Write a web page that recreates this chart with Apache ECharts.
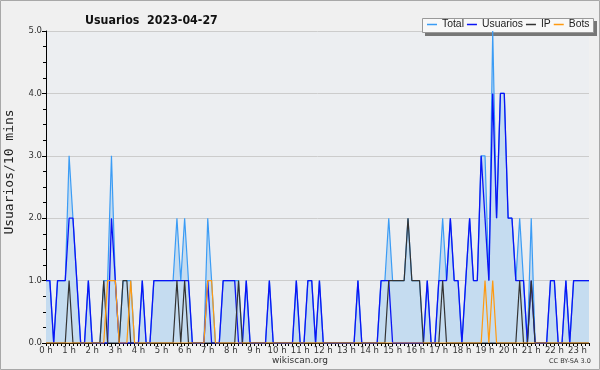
<!DOCTYPE html>
<html>
<head>
<meta charset="utf-8">
<script src="https://cdn.jsdelivr.net/npm/echarts@6/dist/echarts.min.js"></script>
<style>
html,body{margin:0;padding:0;background:#f0f0f0;}
#c{width:600px;height:370px;}
</style>
</head>
<body>
<div id="c"></div>
<script>
// 10-minute slots, 0:00 .. 23:30
var slots = [];
for (var k = 0; k < 142; k++) slots.push(k);
var hourLabels = ["0 h","1 h","2 h","3 h","4 h","5 h","6 h","7 h","8 h","9 h","10 h","11 h","12 h","13 h","14 h","15 h","16 h","17 h","18 h","19 h","20 h","21 h","22 h","23 h"];
var yTicks = ["0.0","1.0","2.0","3.0","4.0","5.0"];

var total = [
 1,1,0,1,1,1,3,2,1,0,
 0,1,0,0,0,1,1,3,1,0,
 1,1,1,0,0,1,0,0,1,1,
 1,1,1,1,2,1,2,1,0,0,
 0,0,2,1,0,0,1,1,1,1,
 1,0,1,0,0,0,0,0,1,0,
 0,0,0,0,0,1,0,0,1,1,
 0,1,0,0,0,0,0,0,0,0,
 0,1,0,0,0,0,0,1,1,2,
 1,1,1,1,2,1,1,1,0,1,
 0,0,1,2,1,2,1,1,0,1,
 2,1,1,3,3,1,5,2,4,4,
 2,2,1,2,1,0,2,0,0,0,
 0,1,1,0,0,1,0,1,1,1,
 1,1];
var usuarios = [
 1,1,0,1,1,1,2,2,1,0,
 0,1,0,0,0,0,0,2,1,0,
 0,0,0,0,0,1,0,0,1,1,
 1,1,1,1,1,1,1,1,0,0,
 0,0,1,0,0,0,1,1,1,1,
 0,0,1,0,0,0,0,0,1,0,
 0,0,0,0,0,1,0,0,1,1,
 0,1,0,0,0,0,0,0,0,0,
 0,1,0,0,0,0,0,1,1,1,
 0,0,0,0,0,0,0,0,0,1,
 0,0,1,1,1,2,1,1,0,1,
 2,1,1,3,2,1,4,2,4,4,
 2,2,1,1,1,0,1,0,0,0,
 0,1,1,0,0,1,0,1,1,1,
 1,1];
var ip = [
 0,0,0,0,0,0,1,0,0,0,
 0,0,0,0,0,1,0,0,0,0,
 1,1,0,0,0,0,0,0,0,0,
 0,0,0,0,1,0,1,0,0,0,
 0,0,0,0,0,0,0,0,0,0,
 1,0,0,0,0,0,0,0,0,0,
 0,0,0,0,0,0,0,0,0,0,
 0,0,0,0,0,0,0,0,0,0,
 0,0,0,0,0,0,0,0,0,1,
 1,1,1,1,2,1,1,1,0,0,
 0,0,0,1,0,0,0,0,0,0,
 0,0,0,0,0,0,0,0,0,0,
 0,0,0,1,0,0,1,0,0,0,
 0,0,0,0,0,0,0,0,0,0,
 0,0];
var bots = [
 0,0,0,0,0,0,0,0,0,0,
 0,0,0,0,0,0,1,1,1,0,
 0,0,1,0,0,0,0,0,0,0,
 0,0,0,0,0,0,0,0,0,0,
 0,0,1,1,0,0,0,0,0,0,
 0,0,0,0,0,0,0,0,0,0,
 0,0,0,0,0,0,0,0,0,0,
 0,0,0,0,0,0,0,0,0,0,
 0,0,0,0,0,0,0,0,0,0,
 0,0,0,0,0,0,0,0,0,0,
 0,0,0,0,0,0,0,0,0,0,
 0,0,0,0,1,0,1,0,0,0,
 0,0,0,0,0,0,0,0,0,0,
 0,0,0,0,0,0,0,0,0,0,
 0,0];

var chart = echarts.init(document.getElementById('c'), null, {renderer:'canvas'});
var FONT = 'DejaVu Sans';
var COND = '"DejaVu Sans Condensed", "Liberation Sans Narrow", "Liberation Sans", sans-serif';
var option = {
  animation: false,
  backgroundColor: '#f0f0f0',
  title: {
    text: 'Usuarios  2023-04-27',
    left: 80, top: 10,
    textStyle: {fontFamily: COND, fontWeight: 'bold', fontSize: 12.3, color: '#111'}
  },
  legend: {
    data: ['Total','Usuarios','IP','Bots'],
    left: 425, top: 17.5, width: 175,
    icon: 'rect',
    itemWidth: 10, itemHeight: 1.5, itemGap: 3,
    padding: [2, 2, 2, 2],
    textStyle: {fontFamily: '"Liberation Sans", sans-serif', fontSize: 10.4, color: '#222'},
    z: 10
  },
  graphic: [
    {type:'rect', z: 1, shape:{x:0.5,y:0.5,width:599,height:369}, style:{fill:'none', stroke:'#a8a8a8', lineWidth:1}},
    {type:'rect', z: 1, shape:{x:425,y:21,width:172,height:15}, style:{fill:'#777'}},
    {type:'rect', z: 2, shape:{x:422.5,y:18.5,width:171,height:14}, style:{fill:'#f8f8f8', stroke:'#999', lineWidth:1}},
    {type:'text', z: 5, left: 'center', top: 356, style:{text:'wikiscan.org', fontFamily: FONT, fontSize: 9, fill:'#333'}},
    {type:'text', z: 5, left: 549, top: 358, style:{text:'CC BY-SA 3.0', fontFamily: FONT, fontSize: 6.5, fill:'#333'}},
    {type:'text', z: 5, x: 10, y: 172, rotation: Math.PI/2,
     style:{text:'Usuarios/10 mins', fontFamily:'DejaVu Sans Mono', fontSize: 13, fill:'#222', textAlign:'center', textVerticalAlign:'middle'}}
  ],
  grid: {
    left: 46, right: 11, top: 31, bottom: 27,
    show: true, backgroundColor: '#eceef1', borderWidth: 0
  },
  xAxis: {
    type: 'category',
    data: slots,
    boundaryGap: false,
    axisLine: {lineStyle: {color: '#000', width: 1}},
    axisTick: {interval: 0, length: 3, lineStyle:{color:'#000'}},
    axisLabel: {
      interval: 0, margin: 3, fontFamily: FONT, fontSize: 8.5, color: '#333',
      formatter: function (v, i) { return (i % 6 === 0) ? hourLabels[i/6] : ''; }
    },
    splitLine: {show: false}
  },
  yAxis: {
    type: 'value', min: 0, max: 5, interval: 1,
    axisLine: {show: true, lineStyle: {color: '#000', width: 1}},
    axisTick: {show: true, length: 4, lineStyle:{color:'#000'}},
    minorTick: {show: true, splitNumber: 4, length: 3, lineStyle:{color:'#000'}},
    axisLabel: {fontFamily: FONT, fontSize: 8.5, color: '#333', margin: 4,
      formatter: function (v) { return yTicks[Math.round(v)]; }},
    splitLine: {show: true, lineStyle: {color: '#cccccc', width: 1}}
  },
  series: [
    {name:'Total', type:'line', data: total, symbol:'none', z: 2,
     lineStyle:{color:'#3b9cf5', width:1.2}, itemStyle:{color:'#3b9cf5'},
     areaStyle:{color:'#c5dcf0', opacity:1}},
    {name:'Usuarios', type:'line', data: usuarios, symbol:'none', z: 3,
     lineStyle:{color:'#0a14f5', width:1.3}, itemStyle:{color:'#0a14f5'}},
    {name:'IP', type:'line', data: ip, symbol:'none', z: 4,
     lineStyle:{color:'#333333', width:1.2}, itemStyle:{color:'#333333'}},
    {name:'Bots', type:'line', data: bots, symbol:'none', z: 5,
     lineStyle:{color:'#ff9a10', width:1.2}, itemStyle:{color:'#ff9a10'}}
  ]
};
chart.setOption(option);
</script>
</body>
</html>
